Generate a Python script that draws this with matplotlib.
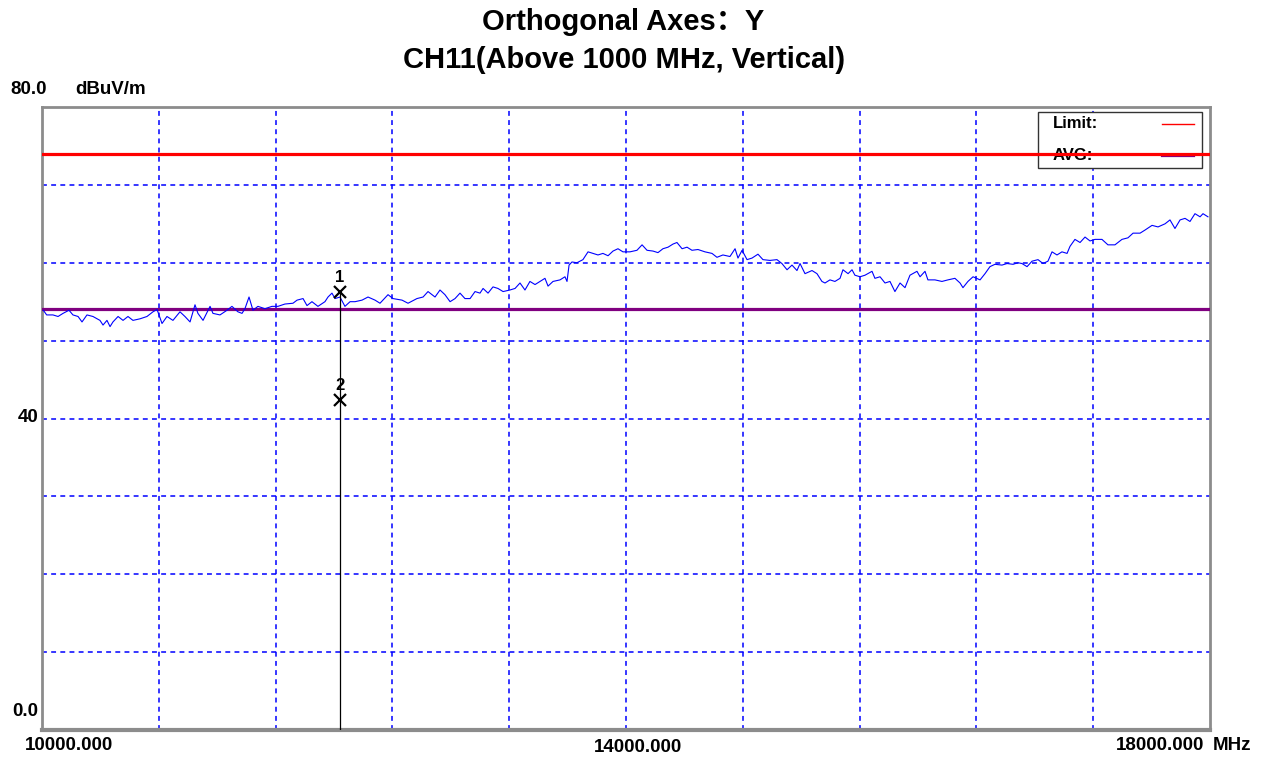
import matplotlib
matplotlib.use("Agg")
import matplotlib.pyplot as plt
from matplotlib.patches import Rectangle
from matplotlib.lines import Line2D

# ---------------- data ----------------
freq_mhz = [
    10009, 10032, 10075, 10110, 10144, 10185, 10212, 10247, 10274, 10308,
    10349, 10397, 10418, 10445, 10466, 10486, 10521, 10555, 10589, 10623,
    10671, 10719, 10760, 10788, 10822, 10856, 10897, 10945, 10979, 11014,
    11048, 11068, 11103, 11151, 11171, 11219, 11267, 11301, 11342,
    11370, 11390, 11418, 11445, 11479, 11527, 11575, 11616, 11664, 11719,
    11747, 11788, 11815, 11849, 11890, 11938, 11959, 11986, 12007, 12041,
    12075, 12110, 12144, 12192, 12233, 12281, 12315, 12370, 12404, 12466,
    12507, 12568, 12610, 12644,
    12692, 12726, 12760, 12795, 12829, 12863, 12897, 12932, 12966, 13000,
    13021, 13055, 13089, 13123, 13158, 13205, 13240, 13274, 13308, 13342,
    13377, 13411, 13445, 13466, 13500, 13548, 13582, 13596, 13610, 13630,
    13664, 13705, 13740, 13774, 13808, 13842, 13877, 13911, 13945, 13979,
    14027, 14075, 14110, 14144, 14185, 14219, 14253, 14288, 14322, 14349,
    14384, 14418, 14452, 14493, 14541, 14589, 14623, 14664, 14712, 14747,
    14767, 14795, 14829, 14863, 14904, 14938, 14986, 15034, 15068, 15103,
    15137, 15171, 15192, 15226, 15274, 15308, 15342,
    15363, 15397, 15431, 15466, 15486, 15521, 15548, 15568, 15603, 15637,
    15685, 15705, 15740, 15774, 15808, 15842, 15877, 15911, 15945, 15993,
    16014, 16048, 16068, 16116, 16164, 16205, 16253, 16288, 16308, 16342,
    16377, 16425, 16459, 16493, 16527, 16575, 16610, 16651, 16685,
    16712, 16747, 16781, 16822, 16856, 16890, 16918, 16952, 16986, 17021,
    17041, 17075, 17110, 17144, 17178, 17212, 17260, 17301, 17349, 17397,
    17438, 17473, 17521, 17555, 17603, 17644, 17692, 17726, 17760, 17795,
    17829, 17863, 17897, 17932, 17952, 17986,
]
level_dbuv = [
    53.9, 53.3, 53.3, 53.1, 53.5, 53.9, 53.3, 53.1, 52.4, 53.3,
    53.1, 52.6, 52.0, 52.6, 51.8, 52.4, 53.1, 52.6, 53.1, 52.6,
    52.8, 53.1, 53.7, 54.0, 52.2, 53.1, 52.6, 53.7, 53.1, 52.4,
    54.6, 53.5, 52.6, 54.4, 53.5, 53.3, 53.9, 54.4, 53.7,
    53.5, 54.1, 55.6, 53.9, 54.4, 54.1, 54.4, 54.4, 54.7, 54.8,
    55.2, 55.4, 54.5, 55.0, 54.4, 55.0, 55.6, 56.1, 55.4, 55.6,
    54.4, 55.0, 55.0, 55.2, 55.6, 55.2, 54.8, 55.9, 55.4, 55.2,
    54.8, 55.4, 55.6, 56.3,
    55.6, 56.5, 55.9, 55.0, 55.4, 56.1, 55.4, 55.4, 56.3, 56.1,
    56.7, 56.1, 56.9, 56.7, 56.3, 56.5, 56.7, 57.4, 56.5, 57.6,
    57.2, 57.6, 58.0, 57.0, 57.6, 57.8, 58.2, 57.6, 59.7, 60.1,
    60.0, 60.4, 61.4, 61.2, 61.0, 61.2, 60.9, 61.5, 61.8, 61.4,
    61.4, 61.6, 62.3, 61.6, 61.5, 61.3, 61.8, 62.0, 62.4, 62.6,
    61.8, 62.0, 61.6, 61.7, 61.4, 61.2, 60.7, 61.0, 60.8, 61.8,
    60.6, 61.6, 60.4, 60.6, 61.1, 60.4, 60.3, 60.4, 59.9, 59.1,
    59.7, 59.0, 59.9, 58.6, 59.0, 58.6, 57.6,
    57.4, 57.8, 57.6, 58.0, 59.1, 58.6, 59.1, 58.4, 58.2, 58.4,
    58.9, 58.0, 58.2, 57.4, 57.6, 56.3, 57.4, 56.8, 58.4, 58.9,
    58.2, 58.9, 57.8, 57.8, 57.6, 57.8, 58.0, 57.4, 56.8, 57.6,
    58.2, 57.8, 58.6, 59.5, 59.8, 59.7, 59.9, 59.8, 60.0,
    59.9, 59.5, 60.2, 60.4, 59.9, 60.2, 61.4, 61.0, 61.4, 61.2,
    62.1, 63.0, 62.6, 63.3, 62.8, 63.0, 63.0, 62.3, 62.3, 63.0,
    63.2, 63.8, 63.8, 64.2, 64.8, 64.6, 65.0, 65.5, 64.4, 65.5,
    65.7, 65.3, 66.3, 65.9, 66.3, 65.9,
]
limit_level = 74.0
avg_level = 54.0
marker_freq = 12041
marker_labels = ["1", "2"]
marker_levels = [56.3, 42.4]
x_tick_labels = ["10000.000", "14000.000", "18000.000"]
y_tick_labels = ["80.0", "40", "0.0"]
title_lines = ["Orthogonal Axes：Y", "CH11(Above 1000 MHz, Vertical)"]
legend_names = ["Limit:", "AVG:"]

# ---------------- figure ----------------
W, H = 1263, 761
fig = plt.figure(figsize=(W / 100, H / 100), dpi=100)
ax = fig.add_axes([42 / W, 1 - 730 / H, 1168 / W, 623 / H])
ax.set_xlim(10000, 18000)
ax.set_ylim(0, 80)
tf = fig.transFigure

# grid
for gx in range(10800, 18000, 800):
    ax.axvline(gx, color="#0000FF", lw=1.1, ls=(0, (3.2, 2.8)), zorder=1)
for gy in range(10, 80, 10):
    ax.axhline(gy, color="#0000FF", lw=1.1, ls=(0, (3.2, 2.8)), zorder=1)

# legend box inside axes (below limit line)
box = Rectangle((1038 / W, 1 - 168 / H), (1202 - 1038) / W, (168 - 112) / H,
                transform=tf, facecolor="white", edgecolor="#333333",
                lw=1.0, zorder=2)
ax.add_patch(box)
leg_kw = dict(fontsize=12, fontweight="bold", family="Liberation Sans")
ax.text(1053 / W, 1 - 124 / H, legend_names[0], transform=tf, ha="left", va="center", zorder=3, **leg_kw)
ax.text(1053 / W, 1 - 155 / H, legend_names[1], transform=tf, ha="left", va="center", zorder=3, **leg_kw)
ax.add_line(Line2D([1162 / W, 1194 / W], [1 - 124 / H, 1 - 124 / H],
                   transform=tf, color="#FF0000", lw=1.0, zorder=3))
ax.add_line(Line2D([1162 / W, 1194 / W], [1 - 156 / H, 1 - 156 / H],
                   transform=tf, color="#800080", lw=1.6, zorder=3))

# limit lines
ax.axhline(limit_level, color="#FF0000", lw=2.3, zorder=4)
ax.axhline(avg_level, color="#800080", lw=2.3, zorder=4)

# trace
ax.plot(freq_mhz, level_dbuv, color="#0000FF", lw=0.8, zorder=5)

# marker line and markers
ax.plot([marker_freq, marker_freq], [0, marker_levels[0]], color="black", lw=0.9, zorder=6)
for lab, lv in zip(marker_labels, marker_levels):
    ax.plot([marker_freq], [lv], marker="x", ms=8, mew=1.6, color="black", zorder=7)
    ax.annotate(lab, (marker_freq, lv), xytext=(0, 5), textcoords="offset points",
                ha="center", va="bottom", fontsize=12, fontweight="bold",
                family="Liberation Sans", zorder=7)

# spines
for s in ax.spines.values():
    s.set_color("#8C8C8C")
    s.set_linewidth(2.0)
ax.spines["bottom"].set_linewidth(3.0)
ax.set_xticks([])
ax.set_yticks([])

# titles
t_kw = dict(ha="center", va="center", fontsize=21, fontweight="bold",
            family=["Liberation Sans", "Noto Sans CJK SC"])
fig.text(623 / W, 1 - 22 / H, title_lines[0], **t_kw)
fig.text(624 / W, 1 - 60 / H, title_lines[1], **t_kw)

# axis labels
lab_kw = dict(fontsize=13.5, fontweight="bold", family="Liberation Sans")
fig.text(10 / W, 1 - 90 / H, y_tick_labels[0], ha="left", va="center", **lab_kw)
fig.text(75 / W, 1 - 90 / H, "dBuV/m", ha="left", va="center", **lab_kw)
fig.text(38 / W, 1 - 418 / H, y_tick_labels[1], ha="right", va="center", **lab_kw)
fig.text(38 / W, 1 - 712 / H, y_tick_labels[2], ha="right", va="center", **lab_kw)

fig.text(25 / W, 1 - 746 / H, x_tick_labels[0], ha="left", va="center", **lab_kw)
fig.text(638 / W, 1 - 748 / H, x_tick_labels[1], ha="center", va="center", **lab_kw)
fig.text(1204 / W, 1 - 746 / H, x_tick_labels[2], ha="right", va="center", **lab_kw)
fig.text(1213 / W, 1 - 746 / H, "MHz", ha="left", va="center", **lab_kw)

fig.savefig("out.png", dpi=100, facecolor="white")
